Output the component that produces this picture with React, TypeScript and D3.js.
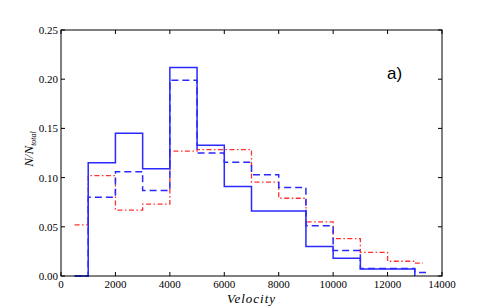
import React from 'react';
import * as d3 from 'd3';

const width = 491;
const height = 307;
const margin = { top: 30, right: 49, bottom: 31, left: 61 };

// step histograms: each value holds from its velocity to the next one
const solidVel = [500, 1000, 2000, 3000, 4000, 5000, 6000, 7000, 8000, 9000, 10000, 11000, 12000, 13000];
const solidN = [0, 0.115, 0.145, 0.109, 0.212, 0.133, 0.091, 0.066, 0.066, 0.030, 0.018, 0.007, 0.007, 0];

const dashedVel = [500, 1000, 2000, 3000, 4000, 5000, 6000, 7000, 8000, 9000, 10000, 11000, 12000, 13000, 13500];
const dashedN = [0, 0.080, 0.106, 0.087, 0.199, 0.125, 0.1155, 0.103, 0.090, 0.051, 0.026, 0.0075, 0.0075, 0.0035, 0.0035];

const dotVel = [500, 1000, 2000, 3000, 4000, 5000, 6000, 7000, 8000, 9000, 10000, 11000, 12000, 13000, 13300];
const dotN = [0.052, 0.102, 0.067, 0.073, 0.127, 0.1285, 0.1285, 0.0955, 0.079, 0.055, 0.038, 0.024, 0.015, 0.013, 0.013];

const xTicks = [0, 2000, 4000, 6000, 8000, 10000, 12000, 14000];
const yTicks = [0, 0.05, 0.1, 0.15, 0.2, 0.25];

const series = [
  { vel: dotVel, n: dotN, color: '#ff3030', dash: '5,2.5,1.5,2.5', w: 1.3 },
  { vel: dashedVel, n: dashedN, color: '#2a2aff', dash: '7,4', w: 1.5 },
  { vel: solidVel, n: solidN, color: '#2a2aff', dash: null, w: 1.5 }
];

export default function App() {
  const x = d3.scaleLinear().domain([0, 14000]).range([margin.left, width - margin.right]);
  const y = d3.scaleLinear().domain([0, 0.25]).range([height - margin.bottom, margin.top]);
  const line = d3.line<[number, number]>()
    .x(d => x(d[0]))
    .y(d => y(d[1]))
    .curve(d3.curveStepAfter);

  const [x0, x1] = x.range();
  const [y0, y1] = y.range();
  const serif = { fontFamily: '"Liberation Serif", "DejaVu Serif", serif' };

  return (
    <svg width={width} height={height} style={{ position: 'absolute', left: 0, top: 0 }}>
      <rect width={width} height={height} fill="#fff" />
      {series.map((s, i) => (
        <path
          key={i}
          d={line(s.vel.map((v, j) => [v, s.n[j]]))!}
          fill="none"
          stroke={s.color}
          strokeWidth={s.w}
          strokeDasharray={s.dash || undefined}
        />
      ))}
      <rect x={x0} y={y1} width={x1 - x0} height={y0 - y1} fill="none" stroke="#000" strokeWidth={1} />
      {xTicks.map(t => (
        <g key={t}>
          <line x1={x(t)} x2={x(t)} y1={y0} y2={y0 - 4} stroke="#000" />
          <line x1={x(t)} x2={x(t)} y1={y1} y2={y1 + 4} stroke="#000" />
          <text x={x(t)} y={y0 + 12} textAnchor="middle" style={serif} fontSize={11}>{t}</text>
        </g>
      ))}
      {yTicks.map(t => (
        <g key={t}>
          <line x1={x0} x2={x0 + 4} y1={y(t)} y2={y(t)} stroke="#000" />
          <line x1={x1} x2={x1 - 4} y1={y(t)} y2={y(t)} stroke="#000" />
          <text x={x0 - 3} y={y(t) + 4} textAnchor="end" style={serif} fontSize={11}>{d3.format('.2f')(t)}</text>
        </g>
      ))}
      <text x={(x0 + x1) / 2} y={height - 4} textAnchor="middle" style={serif} fontStyle="italic" fontSize={13} letterSpacing={1}>Velocity</text>
      <text transform={`translate(33,${(y0 + y1) / 2 - 4}) rotate(-90)`} textAnchor="middle" style={serif} fontStyle="italic" fontSize={13}>
        N/N<tspan fontSize={8} dy={3}>total</tspan>
      </text>
      <text x={387} y={79} style={{ fontFamily: '"Liberation Sans", Arial, sans-serif' }} fontSize={17}>a)</text>
    </svg>
  );
}
